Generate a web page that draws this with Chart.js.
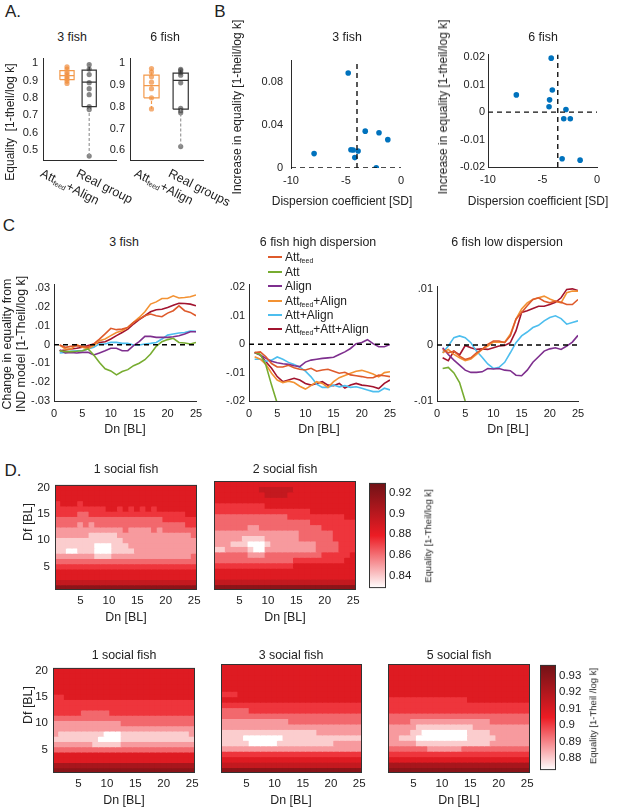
<!DOCTYPE html>
<html><head><meta charset="utf-8">
<script src="https://cdn.jsdelivr.net/npm/chart.js@4.4.1/dist/chart.umd.min.js"></script>
<style>
body{margin:0;background:#fff;}
#fig{position:relative;width:617px;height:807px;overflow:hidden;font-family:"Liberation Sans",Arial,sans-serif;color:#222;}
#fig canvas{position:absolute;}
.t{position:absolute;white-space:nowrap;transform:translate(-50%,-50%);font-size:12.4px;line-height:1;}
.big{font-size:17px;}
sub{font-size:7px;vertical-align:-2px;line-height:0;}
</style></head><body><div id="fig"></div>
<script>
// ---------------- data ----------------
// A: box summaries [low whisker, q1, median, q3, high whisker] + single groups
var a3Feed = [0.883, 0.905, 0.928, 0.957, 0.979];
var a3FeedPts = [0.979, 0.966, 0.948, 0.934, 0.922, 0.91, 0.897, 0.883];
var a3Real = [0.466, 0.75, 0.891, 0.96, 0.991];
var a3RealPts = [0.991, 0.966, 0.934, 0.888, 0.853, 0.819, 0.75, 0.733, 0.466];
var a6Feed = [0.79, 0.841, 0.897, 0.945, 0.975];
var a6FeedPts = [0.975, 0.959, 0.938, 0.913, 0.883, 0.841, 0.79];
var a6Real = [0.617, 0.789, 0.921, 0.954, 0.972];
var a6RealPts = [0.972, 0.966, 0.956, 0.945, 0.91, 0.793, 0.782, 0.772, 0.617];
var a3Ticks = [0.5, 0.6, 0.7, 0.8, 0.9, 1];
var a3Labels = ['0.5', '0.6', '0.7', '0.8', '0.9', '1'];
var a6Ticks = [0.6, 0.7, 0.8, 0.9, 1];
var a6Labels = ['0.6', '0.7', '0.8', '0.9', '1'];

// B: dispersion coefficient vs increase in equality
var b3Disp = [-7.9, -4.8, -4.55, -4.35, -3.9, -4.2, -3.25, -2.0, -1.2, -2.25];
var b3Gain = [0.0134, 0.0885, 0.017, 0.0167, 0.0158, 0.0097, 0.0343, 0.0328, 0.0264, 0.0003];
var b6Disp = [-7.4, -4.2, -4.1, -4.35, -4.4, -2.85, -3.05, -2.45, -3.2, -1.55];
var b6Gain = [0.0063, 0.0197, 0.0081, 0.0045, 0.002, 0.001, -0.0024, -0.0024, -0.017, -0.0175];
var b3Split = -4, b6Split = -3.6;
var bXTicks = [-10, -5, 0], bXLabels = ['-10', '-5', '0'];
var b3YTicks = [0, 0.04, 0.08], b3YLabels = ['0', '0.04', '0.08'];
var b6YTicks = [-0.02, -0.01, 0, 0.01, 0.02], b6YLabels = ['-0.02', '-0.01', '0', '0.01', '0.02'];

// C: change in equality vs Dn
var dn = [1,2,3,4,5,6,7,8,9,10,11,12,13,14,15,16,17,18,19,20,21,22,23,24,25];
var dnTicks = [0, 5, 10, 15, 20, 25], dnLabels = ['0', '5', '10', '15', '20', '25'];
var modelNames = ['Att<sub>feed</sub>', 'Att', 'Align', 'Att<sub>feed</sub>+Align', 'Att+Align', 'Att<sub>feed</sub>+Att+Align'];
var modelColors = ['#DE5A2B', '#77AC30', '#7E2F8E', '#F39233', '#4DBEEE', '#A2142F'];

var c3Feed = [-0.0002,-0.0014,-0.0009,-0.0005,-0.0009,-0.0014,0.0004,0.003,0.0058,0.0087,0.008,0.0083,0.0092,0.0119,0.0136,0.0154,0.0163,0.0154,0.0149,0.0168,0.0181,0.0207,0.0181,0.0172,0.0154];
var c3Att = [-0.0032,-0.0037,-0.0037,-0.0035,-0.0032,-0.0023,-0.0055,-0.0095,-0.0128,-0.014,-0.0161,-0.0143,-0.0133,-0.0112,-0.0099,-0.008,-0.005,-0.0009,0.0016,0.0027,0.0034,0.0012,0.0009,0.0004,0.0012];
var c3Align = [-0.0028,-0.0044,-0.0041,-0.0044,-0.0041,-0.0041,-0.0055,-0.0044,-0.0032,-0.0019,-0.0019,-0.0032,-0.0032,-0.0005,0.0016,0.0044,0.0044,0.0039,0.0039,0.0039,0.0042,0.0048,0.0057,0.0069,0.0069];
var c3FeedAlign = [-0.0002,-0.0023,-0.0023,0,-0.0014,-0.0023,-0.0005,0.0021,0.003,0.0048,0.0065,0.0074,0.0092,0.0119,0.0145,0.0175,0.0216,0.0228,0.0246,0.0246,0.026,0.0249,0.0251,0.0255,0.0265];
var c3AttAlign = [-0.0044,-0.0041,-0.0035,-0.0032,-0.0032,-0.0023,-0.0014,0.0004,0.0004,0.0012,0.0012,0.0007,0.0007,-0.0002,-0.0002,0.0004,0.0007,0.0012,0.003,0.0051,0.0057,0.0062,0.0065,0.0073,0.0071];
var c3All = [-0.0032,-0.0028,-0.0023,-0.0019,-0.0014,-0.0005,0.0004,0.0012,0.0016,0.003,0.0048,0.0065,0.0083,0.011,0.0133,0.0154,0.0175,0.0186,0.0189,0.0198,0.021,0.0221,0.0219,0.0216,0.0207];

var c6hFeed = [-0.0029,-0.0027,-0.0044,-0.0068,-0.008,-0.008,-0.0074,-0.0083,-0.0088,-0.0091,-0.0085,-0.0095,-0.0091,-0.0088,-0.0095,-0.0102,-0.0099,-0.0108,-0.0111,-0.0114,-0.0118,-0.0118,-0.0109,-0.0111,-0.0114];
var c6hAtt = [-0.0029,-0.0036,-0.0074,-0.0144,-0.0208,-0.028];
var c6hAlign = [-0.0029,-0.0038,-0.005,-0.006,-0.0065,-0.0069,-0.0071,-0.0076,-0.0079,-0.0063,-0.0056,-0.0053,-0.005,-0.0048,-0.0046,-0.0036,-0.0027,-0.0015,0.0002,0.0006,0.0016,0.0002,-0.0009,-0.0009,-0.0001];
var c6hFeedAlign = [-0.0044,-0.0053,-0.0071,-0.0102,-0.0126,-0.0135,-0.013,-0.0135,-0.0148,-0.0158,-0.0146,-0.0132,-0.0138,-0.0152,-0.0132,-0.0118,-0.011,-0.0102,-0.0095,-0.0092,-0.0098,-0.0105,-0.0115,-0.01,-0.0097];
var c6hAttAlign = [-0.0053,-0.0053,-0.006,-0.0056,-0.0045,-0.0053,-0.0064,-0.0071,-0.0081,-0.0095,-0.0115,-0.0141,-0.0152,-0.0152,-0.0144,-0.015,-0.0146,-0.0152,-0.015,-0.0155,-0.0161,-0.0167,-0.0167,-0.0155,-0.0161];
var c6hAll = [-0.0029,-0.0038,-0.0062,-0.0085,-0.0114,-0.0132,-0.0126,-0.012,-0.0126,-0.0138,-0.0144,-0.0138,-0.0132,-0.0144,-0.0146,-0.0138,-0.0154,-0.0144,-0.0138,-0.0144,-0.0146,-0.015,-0.0156,-0.0138,-0.0126];

var c6lFeed = [-0.0008,-0.0014,-0.0011,-0.002,-0.0026,-0.0023,-0.0014,-0.0008,0.0001,0.0007,0.0007,0.0004,0.0016,0.0046,0.0058,0.007,0.0081,0.0084,0.0078,0.0075,0.0078,0.0076,0.0072,0.0072,0.0081];
var c6lAtt = [-0.0042,-0.004,-0.005,-0.0067,-0.01,-0.013];
var c6lAlign = [-0.0005,-0.0017,-0.0027,-0.0036,-0.0045,-0.0049,-0.0049,-0.0048,-0.0042,-0.0043,-0.0042,-0.0045,-0.0046,-0.0054,-0.0055,-0.0045,-0.0031,-0.0021,-0.0011,-0.0007,-0.0005,-0.0008,-0.0002,0.0005,0.0017];
var c6lFeedAlign = [-0.0014,-0.0008,-0.0017,-0.0023,-0.0028,-0.0025,-0.0017,-0.0008,-0.0002,0.0005,0.0005,0.0005,0.0019,0.0046,0.0064,0.0075,0.0081,0.0084,0.0087,0.0082,0.0078,0.0075,0.0093,0.0096,0.0096];
var c6lAttAlign = [-0.0014,-0.0002,0.0013,0.0016,0.0013,0.0004,-0.0011,-0.0022,-0.0034,-0.0042,-0.004,-0.0031,-0.0014,0.0004,0.0016,0.0023,0.0031,0.0035,0.0043,0.0049,0.0052,0.0047,0.0037,0.004,0.0043];
var c6lAll = [-0.0023,-0.0028,-0.0011,-0.0018,-0.0001,-0.0005,-0.0008,-0.0007,-0.0008,-0.0005,-0.0002,-0.0001,0.0004,0.0025,0.0058,0.0061,0.0065,0.0069,0.0069,0.0072,0.0076,0.0084,0.0099,0.01,0.0097];

var c3Ticks = [-0.03,-0.02,-0.01,0,0.01,0.02,0.03], c3Labels = ['-.03','-.02','-.01','0','.01','.02','.03'];
var c6hTicks = [-0.02,-0.01,0,0.01,0.02], c6hLabels = ['-.02','-.01','0','.01','.02'];
var c6lTicks = [-0.01,0,0.01], c6lLabels = ['-.01','0','.01'];

// D: equality maps, rows Df=20 (top) .. Df=1, columns Dn=1..25
// digits = colour level along the colour bar, 0 (white, low) .. 9 (dark red, high)
var dfRows = [20,19,18,17,16,15,14,13,12,11,10,9,8,7,6,5,4,3,2,1];
var dTicksX = [5,10,15,20,25], dLabelsX = ['5','10','15','20','25'];
var dTicksY = [5,10,15,20], dLabelsY = ['5','10','15','20'];
var d1Social = [
 "5555555555555555555555555","5555555555555555555555555","5555555555555555555555555","4555455555555555555555555",
 "4444444445545454545555555","4444334444444444444444455","3333333333333333333444444","3333232333333333333333344",
 "2222222222223222232333333","2222221111122222222222223","1111111111112222222222222","1111111000111222222222222",
 "1100111000111122222222222","2222222111222222222222223","3333333333333333333333333","4444444444444444444444444",
 "5555555555555555555555555","5555555555555555555555555","6666666666666666666666666","8888888888888888888888888"];
var d2Social = [
 "5555555555555555555555555","5555555566666655555555555","5555555556666555555555555","5555555555555555555555555",
 "4444444445555555555555555","4444444444444444455555555","3333333333333444444444455","3333333333333333344444444",
 "3333332233333333333444444","2222222222222223333334444","2222211112222223333334444","2221110001222222223333444",
 "1122221002222222223333444","3333332223333333333444445","3333333333333344444444455","4444444444444455555555555",
 "5555555555555555555555555","5555555555555555555555555","6666666666666666666666666","8888888888888888888888888"];
var cb1Range = [0.8282, 0.9295];
var cb1Ticks = [0.84, 0.86, 0.88, 0.9, 0.92], cb1Labels = ['0.84', '0.86', '0.88', '0.9', '0.92'];
var d1SocialB = [
 "5555555555555555555555555","5555555555555555555555555","5555555555555555555555555","5555555555555555555555555",
 "5555555555555555555555555","4455555555555555555555555","4444444444444444444444444","4444444444444444444444444",
 "4444433333444444444444444","3333333333333333333333333","2222222222223333333333333","2222222222222222222222222",
 "2111111110001111111111112","1111111100001111111111111","2222222111112222222222222","3333333333333333333333333",
 "5555555555555555555555555","5555555555555555555555555","7777777777777777777777777","8888888888888888888888888"];
var d3Social = [
 "5555555555555555555555555","5555555555555555555555555","5555555555555555555555555","5555555555555555555555555",
 "5555555555555555555555555","4445555555555555555555555","5555555555555555555555555","4444444444444444444444444",
 "3333344444444444444444444","3333333333333333333333333","2222222222223333333333333","2222222222222222222222222",
 "1111111111111111122222222","1111000000011111111111111","1111100000111111111122222","2222222222222222222222222",
 "4444444444444444444444444","5555555555555555555555555","6666666666666666666666666","8888888888888888888888888"];
var d5Social = [
 "5555555555555555555555555","5555555555555555555555555","5555555555555555555555555","5555555555555555555555555",
 "5555555555555555555555555","5555555555555555555555555","4444444444444455555555555","4444444444444444444444444",
 "4444444444444444444444444","3333333333333333333333333","3333222222222222223333333","2222211111111112222222222",
 "2222110000000011112222222","2211100000000011111222222","2222211111111111112222222","3333333222222333333333333",
 "4444444444444444444444444","5555555555555555555555555","7777777777777777777777777","8888888888888888888888888"];
var cb2Range = [0.8727, 0.9366];
var cb2Ticks = [0.88, 0.89, 0.9, 0.91, 0.92, 0.93], cb2Labels = ['0.88', '0.89', '0.9', '0.91', '0.92', '0.93'];

// colour map: white -> red -> dark red
var cmapStops = [[0, [255,255,255]], [0.5, [236,28,36]], [1, [112,18,22]]];

// ---------------- helpers ----------------
Chart.defaults.font.family = '"Liberation Sans", Arial, sans-serif';
Chart.defaults.font.size = 11;
Chart.defaults.color = '#222';
Chart.defaults.animation = false;
Chart.defaults.responsive = false;
Chart.defaults.events = [];
Chart.defaults.plugins.legend.display = false;
Chart.defaults.plugins.tooltip.enabled = false;

var fig = document.getElementById('fig');

function cmap(t) {
  for (var i = 1; i < cmapStops.length; i++) {
    var a = cmapStops[i-1], b = cmapStops[i];
    if (t <= b[0]) {
      var f = (t - a[0]) / (b[0] - a[0]);
      return 'rgb(' + a[1].map(function(v, k){ return Math.round(v + f*(b[1][k]-v)); }).join(',') + ')';
    }
  }
  return 'rgb(' + cmapStops[cmapStops.length-1][1].join(',') + ')';
}

// m = [top, right, bottom, left] room around the plot box
function canvasAt(l, t, r, b, m) {
  var c = document.createElement('canvas');
  var w = r - l + m[1] + m[3], h = b - t + m[0] + m[2];
  c.width = w; c.height = h;
  c.style.left = (l - m[3]) + 'px'; c.style.top = (t - m[0]) + 'px';
  c.style.width = w + 'px'; c.style.height = h + 'px';
  fig.appendChild(c);
  return c;
}

function axis(min, max, ticks, labels, size, o) {
  o = o || {};
  return {
    type: 'linear', min: min, max: max, offset: false, position: o.position,
    grid: {display: false, drawTicks: false},
    border: {display: o.border !== false, color: '#2b2b2b', width: 1},
    ticks: {display: !!labels, padding: o.pad == null ? 4 : o.pad, font: {size: o.font || 11},
            maxRotation: 0, autoSkip: false, color: '#222',
            callback: function(v, i){ return labels ? labels[i] : ''; }},
    afterBuildTicks: function(s){ s.ticks = (ticks || []).map(function(v){ return {value: v}; }); },
    afterFit: function(s){ if (s.isHorizontal()) s.height = size; else s.width = size; }
  };
}

var frame = {id: 'frame', afterDatasetsDraw: function(chart) {
  var a = chart.chartArea, g = chart.ctx;
  g.save(); g.strokeStyle = '#333'; g.lineWidth = 1;
  g.strokeRect(a.left + 0.5, a.top + 0.5, a.right - a.left - 1, a.bottom - a.top - 1);
  g.restore();
}};

function text(html, x, y, o) {
  var d = document.createElement('div');
  d.className = 't' + (o && o.cls ? ' ' + o.cls : '');
  d.innerHTML = html;
  d.style.left = x + 'px'; d.style.top = y + 'px';
  if (o && o.size) d.style.fontSize = o.size + 'px';
  if (o && o.rot) d.style.transform = 'translate(-50%,-50%) rotate(' + o.rot + 'deg)';
  if (o && o.start) { d.style.transform = 'rotate(' + o.start + 'deg)'; d.style.transformOrigin = '0 0'; }
  fig.appendChild(d);
}

// ---------------- A: box plots ----------------
function boxSets(stats, pts, pos, hw, col, ptCol) {
  var lo = stats[0], q1 = stats[1], med = stats[2], q3 = stats[3], hi = stats[4];
  function ln(data, dash) {
    return {type: 'line', data: data, showLine: true, borderColor: col, borderWidth: 1.2,
            borderDash: dash || [], pointRadius: 0, fill: false};
  }
  return [
    ln([{x: pos, y: q3}, {x: pos, y: hi}], [3, 2]),
    ln([{x: pos, y: lo}, {x: pos, y: q1}], [3, 2]),
    ln([{x: pos-hw, y: q1}, {x: pos+hw, y: q1}, {x: pos+hw, y: q3}, {x: pos-hw, y: q3}, {x: pos-hw, y: q1}]),
    ln([{x: pos-hw, y: med}, {x: pos+hw, y: med}]),
    {type: 'scatter', data: pts.map(function(y){ return {x: pos, y: y}; }), pointRadius: 2.6,
     pointBackgroundColor: ptCol, pointBorderWidth: 0}
  ];
}

function boxPanel(l, t, r, b, xr, yr, hw, feed, feedPts, real, realPts, ticks, labels) {
  var m = [8, 6, 4, 32];
  var ds = boxSets(feed, feedPts, 1, hw, '#F3994A', 'rgba(240,140,60,0.7)')
    .concat(boxSets(real, realPts, 2, hw, '#333', 'rgba(70,70,70,0.65)'));
  ds[ds.length - 4].borderColor = '#999';
  new Chart(canvasAt(l, t, r, b, m), {
    type: 'scatter', data: {datasets: ds},
    options: {layout: {padding: {top: m[0], right: m[1], bottom: 0, left: 0}},
      scales: {x: axis(xr[0], xr[1], [], null, m[2]), y: axis(yr[0], yr[1], ticks, labels, m[3], {pad: 5})}}
  });
}
boxPanel(43, 55, 116, 168, [-0.081, 3.207], [0.4413, 1.026], 0.32, a3Feed, a3FeedPts, a3Real, a3RealPts, a3Ticks, a3Labels);
boxPanel(130, 55, 203, 168, [0.264, 2.764], [0.5537, 1.021], 0.26, a6Feed, a6FeedPts, a6Real, a6RealPts, a6Ticks, a6Labels);

// ---------------- B: scatter ----------------
function scatterPanel(l, t, r, b, disp, gain, yr, split, ticks, labels, pad, xBorder) {
  var m = [8, 12, 22, 42];
  var dash = {type: 'line', showLine: true, borderColor: '#111', borderWidth: 1.4, borderDash: [5, 4], pointRadius: 0};
  var ds = [
    Object.assign({data: [{x: -10, y: 0}, {x: 0, y: 0}]}, dash),
    Object.assign({data: [{x: split, y: yr[0]}, {x: split, y: yr[1]}]}, dash),
    {type: 'scatter', data: disp.map(function(x, i){ return {x: x, y: gain[i]}; }),
     pointRadius: 2.8, pointBackgroundColor: '#0072BD', pointBorderWidth: 0}
  ];
  new Chart(canvasAt(l, t, r, b, m), {
    type: 'scatter', data: {datasets: ds},
    options: {layout: {padding: {top: m[0], right: m[1], bottom: 0, left: 0}},
      scales: {x: axis(-10, 0, bXTicks, bXLabels, m[2], {pad: 6, border: xBorder}),
               y: axis(yr[0], yr[1], ticks, labels, m[3], {pad: pad})}}
  });
}
scatterPanel(291, 54, 401, 168, b3Disp, b3Gain, [0, 0.1], b3Split, b3YTicks, b3YLabels, 8, false);
scatterPanel(488, 53, 597, 167, b6Disp, b6Gain, [-0.02, 0.021], b6Split, b6YTicks, b6YLabels, 3, true);

// ---------------- C: line charts ----------------
function linePanel(l, t, r, b, series, yr, ticks, labels) {
  var m = [10, 14, 26, 40];
  var ds = series.map(function(s, k) {
    return {data: dn.map(function(x, i){ return {x: x, y: s[i]}; }).filter(function(p){ return p.y !== undefined; }),
            borderColor: modelColors[k], borderWidth: 1.6, pointRadius: 0, order: k + 1};
  });
  ds.push({data: [{x: 0, y: 0}, {x: 25, y: 0}], borderColor: '#000', borderWidth: 1.5, borderDash: [5, 4], pointRadius: 0, order: 0});
  new Chart(canvasAt(l, t, r, b, m), {
    type: 'line', data: {datasets: ds},
    options: {layout: {padding: {top: m[0], right: m[1], bottom: 0, left: 0}},
      scales: {x: axis(0, 25, dnTicks, dnLabels, m[2], {pad: 6}), y: axis(yr[0], yr[1], ticks, labels, m[3], {pad: 4})}}
  });
}
linePanel(54, 284, 196, 401, [c3Feed, c3Att, c3Align, c3FeedAlign, c3AttAlign, c3All], [-0.03, 0.032], c3Ticks, c3Labels);
linePanel(249, 284, 390, 401, [c6hFeed, c6hAtt, c6hAlign, c6hFeedAlign, c6hAttAlign, c6hAll], [-0.02, 0.021], c6hTicks, c6hLabels);
linePanel(437, 286, 578, 401, [c6lFeed, c6lAtt, c6lAlign, c6lFeedAlign, c6lAttAlign, c6lAll], [-0.01, 0.0104], c6lTicks, c6lLabels);

// ---------------- D: heat maps ----------------
function heatPanel(l, t, r, b, rows, showY) {
  var m = [8, 12, 26, 32];
  var ds = rows.map(function(row, i) {
    return {data: dn.map(function(x){ return {x: x, y: [dfRows[i] - 0.5, dfRows[i] + 0.5]}; }),
            backgroundColor: dn.map(function(x, j){ return cmap(+row[j] / 9); }),
            borderWidth: 0, grouped: false, barPercentage: 1, categoryPercentage: 1, inflateAmount: 0.5};
  });
  new Chart(canvasAt(l, t, r, b, m), {
    type: 'bar', data: {datasets: ds},
    options: {layout: {padding: {top: m[0], right: m[1], bottom: 0, left: 0}},
      scales: {x: axis(0.5, 25.5, dTicksX, dLabelsX, m[2], {pad: 4, border: false, font: 11.5}),
               y: axis(0.5, 20.5, dTicksY, showY ? dLabelsY : null, m[3], {pad: 5, border: false, font: 11.5})}},
    plugins: [frame]
  });
}

function colorBar(l, t, r, b, range, ticks, labels) {
  var m = [8, 40, 8, 0];
  new Chart(canvasAt(l, t, r, b, m), {
    type: 'bar',
    data: {labels: [''], datasets: [{data: [range], barPercentage: 1, categoryPercentage: 1, borderWidth: 0,
      backgroundColor: function(ctx) {
        var a = ctx.chart.chartArea;
        if (!a) return '#e00';
        var g = ctx.chart.ctx.createLinearGradient(0, a.bottom, 0, a.top);
        cmapStops.forEach(function(s){ g.addColorStop(s[0], 'rgb(' + s[1].join(',') + ')'); });
        return g;
      }}]},
    options: {layout: {padding: {top: m[0], right: 0, bottom: m[2], left: 0}},
      scales: {x: {display: false},
               y: axis(range[0], range[1], ticks, labels, m[1], {position: 'right', border: false, pad: 3, font: 11.5})}},
    plugins: [frame]
  });
}

heatPanel(55, 481, 197, 590, d1Social, true);
heatPanel(214, 481, 356, 590, d2Social, false);
colorBar(369, 481, 386, 590, cb1Range, cb1Ticks, cb1Labels);
heatPanel(53, 664, 195, 773, d1SocialB, true);
heatPanel(221, 664, 362, 773, d3Social, false);
heatPanel(388, 664, 530, 773, d5Social, false);
colorBar(540, 663, 556, 772, cb2Range, cb2Ticks, cb2Labels);

// ---------------- text ----------------
text('A.', 13, 11, {cls: 'big'});
text('B', 220, 11, {cls: 'big'});
text('C', 9, 225, {cls: 'big'});
text('D.', 13, 470, {cls: 'big'});

text('3 fish', 72, 37); text('6 fish', 165, 37);
text('Equality&nbsp; [1-theil/log k]', 10, 122, {rot: -90, size: 12});
text('Att<sub>feed</sub>+Align', 44, 167, {start: 27, size: 12.5});
text('Real group', 80, 167, {start: 27, size: 12.5});
text('Att<sub>feed</sub>+Align', 138, 167, {start: 27, size: 12.5});
text('Real groups', 172, 167, {start: 27, size: 12.5});

text('3 fish', 347, 37); text('6 fish', 543, 37);
text('Increase in equality [1-theil/log k]', 237, 107, {rot: -90, size: 12});
text('Increase in equality [1-theil/log k]', 443, 107, {rot: -90, size: 12});
text('Dispersion coefficient [SD]', 342, 201, {size: 12});
text('Dispersion coefficient [SD]', 538, 201, {size: 12});

text('3 fish', 124, 241.5);
text('6 fish high dispersion', 318, 241.5);
text('6 fish low dispersion', 507, 241.5);
text('Change in equality from', 6.5, 344, {rot: -90, size: 12.4});
text('IND model [1-Theil/log k]', 21, 344, {rot: -90, size: 12.4});
text('Dn [BL]', 125, 429); text('Dn [BL]', 319, 429); text('Dn [BL]', 508, 429);

modelNames.forEach(function(n, k) {
  var y = Math.round(257.3 + 14.4 * k);
  var sw = document.createElement('div');
  sw.style.cssText = 'position:absolute;left:268px;top:' + (y - 1) + 'px;width:14px;height:2px;background:' + modelColors[k];
  fig.appendChild(sw);
  var d = document.createElement('div');
  d.className = 't';
  d.style.cssText = 'left:285px;top:' + y + 'px;transform:translate(0,-50%);font-size:12px';
  d.innerHTML = n;
  fig.appendChild(d);
});

text('1 social fish', 126, 469); text('2 social fish', 285, 469);
text('Df [BL]', 28, 522, {rot: -90});
text('Dn [BL]', 126, 617); text('Dn [BL]', 285, 617);
text('Equality [1-Theil/log k]', 428, 536, {rot: -90, size: 9.5});

text('1 social fish', 124, 655); text('3 social fish', 291, 655); text('5 social fish', 459, 655);
text('Df [BL]', 28, 705, {rot: -90});
text('Dn [BL]', 124, 800); text('Dn [BL]', 291, 800); text('Dn [BL]', 459, 800);
text('Equality [1-Theil /log k]', 593, 716, {rot: -90, size: 9.5});
</script></body></html>
